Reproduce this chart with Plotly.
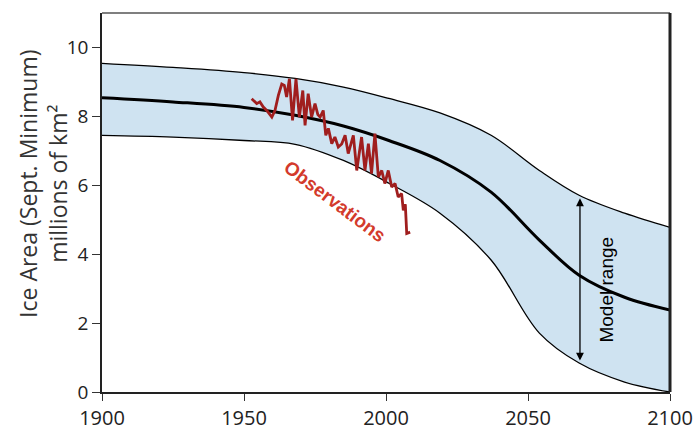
import plotly.graph_objects as go

# Model projection
model_years = [1900, 1925, 1950, 1968, 1985, 2001, 2019, 2037, 2054, 2068, 2084, 2100]
model_upper = [9.54, 9.42, 9.27, 9.10, 8.85, 8.52, 8.10, 7.45, 6.43, 5.71, 5.19, 4.78]
model_mean  = [8.54, 8.42, 8.26, 8.03, 7.72, 7.30, 6.72, 5.80, 4.41, 3.39, 2.75, 2.38]
model_lower = [7.45, 7.40, 7.30, 7.19, 6.72, 6.06, 5.19, 3.83, 1.71, 0.84, 0.29, 0.00]

# Observations (September minimum ice area)
obs_years = [1952.7, 1954.5, 1955.6, 1956.8, 1958.0, 1959.8, 1960.9, 1962.1, 1963.3,
             1964.2, 1965.0, 1966.0, 1967.1, 1968.3, 1969.5, 1970.7, 1971.5, 1972.6,
             1973.8, 1975.0, 1976.0, 1976.8, 1977.9, 1978.8, 1979.7, 1980.9, 1982.0,
             1983.2, 1984.4, 1985.6, 1986.7, 1987.6, 1988.5, 1989.7, 1991.4, 1992.6,
             1993.8, 1994.9, 1996.1, 1997.3, 1998.5, 1999.6, 2000.8, 2002.0, 2003.2,
             2004.3, 2005.5, 2006.1, 2006.8, 2007.3, 2008.5]
obs_values = [8.51, 8.37, 8.42, 8.27, 8.17, 7.98, 8.17, 8.61, 8.94,
              8.90, 8.56, 9.09, 7.88, 9.09, 7.98, 8.75, 7.74, 8.66,
              7.98, 8.37, 8.05, 7.98, 8.17, 7.45, 7.65, 7.21, 7.40,
              7.11, 7.20, 7.45, 6.92, 7.20, 7.45, 6.43, 7.40, 6.43,
              7.21, 6.34, 7.50, 6.24, 6.43, 6.05, 6.43, 5.95, 6.05,
              5.66, 5.76, 5.27, 5.45, 4.60, 4.64]

x_ticks = [1900, 1950, 2000, 2050, 2100]
y_ticks = [0, 2, 4, 6, 8, 10]

arrow_year = 2068.3
arrow_top, arrow_bottom = 5.62, 0.87

FONT = "Open Sans"

fig = go.Figure()
fig.add_trace(go.Scatter(x=model_years, y=model_lower, mode="lines",
                         line=dict(color="black", width=1.3, shape="spline"),
                         hoverinfo="skip", showlegend=False))
fig.add_trace(go.Scatter(x=model_years, y=model_upper, mode="lines",
                         line=dict(color="black", width=1.3, shape="spline"),
                         fill="tonexty", fillcolor="#cfe3f1",
                         hoverinfo="skip", showlegend=False))
fig.add_trace(go.Scatter(x=model_years, y=model_mean, mode="lines",
                         line=dict(color="black", width=3, shape="spline"),
                         showlegend=False))
fig.add_trace(go.Scatter(x=obs_years, y=obs_values, mode="lines",
                         line=dict(color="#a01e1e", width=2.8),
                         showlegend=False))

# Model range arrow (double headed)
fig.add_annotation(x=arrow_year, y=arrow_top, ax=arrow_year, ay=arrow_bottom,
                   xref="x", yref="y", axref="x", ayref="y", text="",
                   showarrow=True, arrowhead=2, arrowside="end+start",
                   arrowsize=1.2, arrowwidth=1.3, arrowcolor="black")
fig.add_annotation(x=2077.3, y=2.96, xref="x", yref="y", text="Model range",
                   showarrow=False, textangle=-90,
                   font=dict(family="Liberation Sans", size=19, color="black"))
fig.add_annotation(x=1982.0, y=5.52, xref="x", yref="y", text="<b>Observations</b>",
                   showarrow=False, textangle=37,
                   font=dict(family="Liberation Sans", size=19, color="#d33a2c"))

# Y-axis title
fig.add_annotation(x=-0.1039, y=0.549, xref="paper", yref="paper",
                   text="Ice Area (Sept. Minimum)<br>millions of km²",
                   showarrow=False, textangle=-90, xanchor="center", yanchor="middle",
                   font=dict(family=FONT, size=23, color="#333"))

# Frame: top and right lines
fig.add_shape(type="line", xref="paper", yref="paper", x0=0, x1=1, y0=1, y1=1,
              line=dict(color="#555", width=1.5))
fig.add_shape(type="line", xref="paper", yref="paper", x0=1, x1=1, y0=0, y1=1,
              line=dict(color="#222", width=3))

fig.update_layout(
    width=697, height=433,
    margin=dict(l=102, r=27, t=13, b=41),
    plot_bgcolor="white", paper_bgcolor="white",
    font=dict(family=FONT, color="#222"),
    xaxis=dict(range=[1900, 2100], tickvals=x_ticks, ticks="outside", ticklen=7,
               tickwidth=1.3, tickcolor="#333", showline=True, linecolor="#222",
               linewidth=1.6, showgrid=False, zeroline=False, automargin=False,
               tickfont=dict(size=20, family=FONT, color="#222")),
    yaxis=dict(range=[0, 11], tickvals=y_ticks, ticks="outside", ticklen=8,
               tickwidth=1.3, tickcolor="#333", showline=True, linecolor="#222",
               linewidth=1.6, showgrid=False, zeroline=False, automargin=False,
               tickfont=dict(size=19, family=FONT, color="#222")),
)

fig.write_html("out.html", config={"displayModeBar": False},
               post_script="document.body.style.margin='0';document.body.style.padding='0';document.body.style.overflow='hidden';")
